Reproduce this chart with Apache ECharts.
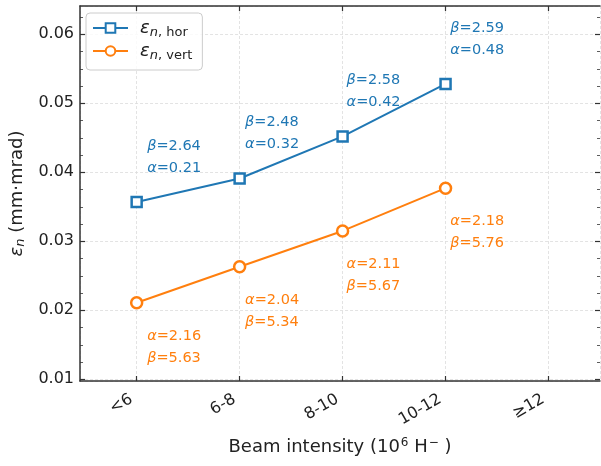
<!DOCTYPE html>
<html>
<head>
<meta charset="utf-8">
<script src="https://cdn.jsdelivr.net/npm/echarts@6/dist/echarts.min.js"></script>
<style>
  html, body { margin: 0; padding: 0; background: #fff; }
  #chart { width: 601px; height: 466px; }
</style>
</head>
<body>
<div id="chart"></div>
<script>
// categories (beam intensity bins)
var categories = ['<6', '6-8', '8-10', '10-12', '\u226512'];
var catIndex = [0, 1, 2, 3, 4];

// emittance values (mm·mrad)
var horValues = [0.0357, 0.0391, 0.0452, 0.0528];
var vertValues = [0.0211, 0.0263, 0.0315, 0.0377];

// Twiss parameters written next to each point
var horBeta = ['2.64', '2.48', '2.58', '2.59'];
var horAlpha = ['0.21', '0.32', '0.42', '0.48'];
var vertAlpha = ['2.16', '2.04', '2.11', '2.18'];
var vertBeta = ['5.63', '5.34', '5.67', '5.76'];

// y axis ticks
var yMajor = [0.01, 0.02, 0.03, 0.04, 0.05, 0.06];
var yMinor = [0.0125, 0.015, 0.0175, 0.0225, 0.025, 0.0275, 0.0325, 0.035, 0.0375,
              0.0425, 0.045, 0.0475, 0.0525, 0.055, 0.0575, 0.0625];

// pixel shift of each text block from its point
var labelDx = [10.5, 5.5, 4, 4.7];

var BLUE = '#1f77b4';
var ORANGE = '#ff7f0e';
var FONT = 'DejaVu Sans';
// the right frame edge is cut off by the picture border
var X_MIN = -0.55, X_MAX = 4.5;
var Y_MIN = 0.00975, Y_MAX = 0.0641;

function drawChart () {
  var chartDom = document.getElementById('chart');
  var myChart = echarts.init(chartDom, null, { renderer: 'canvas' });

  var horData = horValues.map(function (v, i) { return [catIndex[i], v]; });
  var vertData = vertValues.map(function (v, i) { return [catIndex[i], v]; });

  var spine = { show: true, onZero: false, lineStyle: { color: '#333', width: 1.5 } };
  var noLine = { show: false, onZero: false };
  var gridLine = { show: true, lineStyle: { color: '#dcdcdc', type: [3, 2], width: 0.8 } };

  // axes that only carry tick marks
  function xTicks (pos) {
    return {
      type: 'value', position: pos, min: X_MIN, max: X_MAX,
      axisLine: noLine,
      axisTick: { show: true, inside: true, length: 5, lineStyle: { color: '#333', width: 1.2 }, customValues: catIndex },
      axisLabel: { show: false },
      splitLine: { show: false }
    };
  }
  function yTicks (pos, vals, len, w) {
    return {
      type: 'value', position: pos, min: Y_MIN, max: Y_MAX,
      axisLine: noLine,
      axisTick: { show: true, inside: true, length: len, lineStyle: { color: '#333', width: w }, customValues: vals },
      axisLabel: { show: false },
      splitLine: { show: false }
    };
  }

  function annot (name, data, lines, color, dy) {
    return {
      name: name,
      type: 'scatter',
      data: data.map(function (d, i) {
        return { value: d, label: { position: [labelDx[i], dy] } };
      }),
      symbolSize: 0,
      silent: true,
      z: 5,
      itemStyle: { opacity: 1 },
      label: {
        show: true,
        position: [10, dy],
        align: 'left',
        verticalAlign: 'top',
        color: color,
        formatter: function (p) {
          return lines.map(function (l) {
            return '{g|' + l.sym + '}{t|=' + l.vals[p.dataIndex] + '}';
          }).join('\n');
        },
        rich: {
          g: { fontFamily: FONT, fontStyle: 'italic', fontSize: 14.5, color: color, lineHeight: 22 },
          t: { fontFamily: FONT, fontSize: 14.5, color: color, lineHeight: 22 }
        }
      }
    };
  }

  var option = {
    backgroundColor: '#fff',
    animation: false,
    textStyle: { fontFamily: FONT },
    grid: { left: 78, top: 6, right: 1, height: 375, containLabel: false },
    legend: {
      left: 86,
      top: 13,
      orient: 'vertical',
      data: ['hor', 'vert'],
      itemWidth: 35,
      itemHeight: 12,
      itemGap: 3,
      padding: [6, 10, 8, 6],
      borderColor: '#cccccc',
      borderWidth: 1,
      borderRadius: 4,
      backgroundColor: 'rgba(255,255,255,0.8)',
      formatter: function (name) {
        return '{e|\u03b5}{s|n}{r|, ' + name + '}';
      },
      textStyle: {
        rich: {
          e: { fontFamily: FONT, fontStyle: 'italic', fontSize: 18, color: '#222', padding: [0, 0, 0, 7] },
          s: { fontFamily: FONT, fontStyle: 'italic', fontSize: 13, color: '#222', padding: [9, 0, 0, 0] },
          r: { fontFamily: FONT, fontSize: 13, color: '#222', padding: [9, 0, 0, 0] }
        }
      }
    },
    xAxis: [
      {
        type: 'value',
        position: 'bottom',
        min: X_MIN,
        max: X_MAX,
        name: '{t|Beam intensity (10}{p|6}{t| H}{p|\u2212}{t| )}',
        nameLocation: 'middle',
        nameGap: 56,
        nameTextStyle: {
          rich: {
            t: { fontFamily: FONT, fontSize: 18, color: '#222' },
            p: { fontFamily: FONT, fontSize: 12, color: '#222', padding: [0, 0, 9, 1] }
          }
        },
        axisLine: spine,
        axisTick: { show: false },
        axisLabel: {
          customValues: catIndex,
          rotate: 30,
          margin: 14,
          padding: [0, 6, 0, 0],
          fontFamily: FONT,
          fontSize: 16,
          color: '#222',
          formatter: function (v) { return categories[Math.round(v)]; }
        },
        splitLine: gridLine
      },
      {
        type: 'value',
        position: 'top',
        min: X_MIN,
        max: X_MAX,
        axisLine: spine,
        axisTick: { show: false },
        axisLabel: { show: false },
        splitLine: { show: false }
      },
      xTicks('bottom'),
      xTicks('top')
    ],
    yAxis: [
      {
        type: 'value',
        position: 'left',
        min: Y_MIN,
        max: Y_MAX,
        name: '{e|\u03b5}{s|n}{r| (mm\u00b7mrad)}',
        nameLocation: 'middle',
        nameGap: 50,
        nameTextStyle: {
          rich: {
            e: { fontFamily: FONT, fontStyle: 'italic', fontSize: 18, color: '#222' },
            s: { fontFamily: FONT, fontStyle: 'italic', fontSize: 13, color: '#222', padding: [8, 0, 0, 0] },
            r: { fontFamily: FONT, fontSize: 18, color: '#222' }
          }
        },
        axisLine: spine,
        axisTick: { show: false },
        axisLabel: {
          customValues: yMajor,
          margin: 6,
          fontFamily: FONT,
          fontSize: 16,
          color: '#222',
          formatter: function (v) { return v.toFixed(2); }
        },
        splitLine: gridLine
      },
      yTicks('left', yMajor, 5, 1.2),
      yTicks('left', yMinor, 3, 0.8),
      yTicks('right', yMajor, 5, 1.2),
      yTicks('right', yMinor, 3, 0.8)
    ],
    series: [
      {
        name: 'hor',
        type: 'line',
        data: horData,
        color: BLUE,
        symbol: 'rect',
        symbolSize: 10,
        z: 3,
        lineStyle: { color: BLUE, width: 2 },
        itemStyle: { color: '#fff', borderColor: BLUE, borderWidth: 2.5 }
      },
      {
        name: 'vert',
        type: 'line',
        data: vertData,
        color: ORANGE,
        symbol: 'circle',
        symbolSize: 11,
        z: 3,
        lineStyle: { color: ORANGE, width: 2 },
        itemStyle: { color: '#fff', borderColor: ORANGE, borderWidth: 2.5 }
      },
      annot('horText', horData, [{ sym: '\u03b2', vals: horBeta }, { sym: '\u03b1', vals: horAlpha }], BLUE, -67),
      annot('vertText', vertData, [{ sym: '\u03b1', vals: vertAlpha }, { sym: '\u03b2', vals: vertBeta }], ORANGE, 22.4)
    ]
  };

  option && myChart.setOption(option);
}

drawChart();
</script>
</body>
</html>
